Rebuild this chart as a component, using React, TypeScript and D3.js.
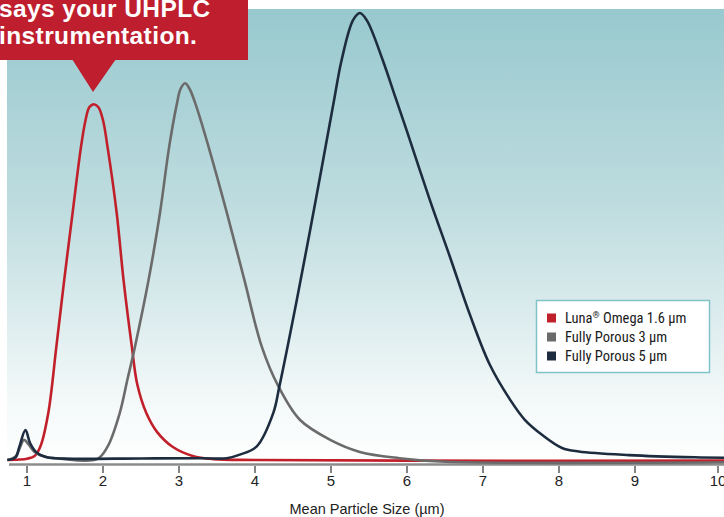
import * as d3 from "d3";

// particle size (µm) vs relative intensity (0-100, 100 = tallest peak)
const lunaX = [0.75, 0.9, 1.0, 1.1, 1.18, 1.28, 1.386, 1.49, 1.6, 1.71, 1.77, 1.82, 1.88, 1.94, 2.0, 2.06, 2.18, 2.27, 2.38, 2.45, 2.57, 2.71, 2.92, 3.18, 3.45, 4.0, 6.0, 10.1];
const lunaY = [0, 0.1, 0.3, 0.9, 3.2, 10.5, 25.3, 40.3, 55.3, 70, 76, 78.9, 79.6, 78.9, 76, 70, 55.3, 40.3, 25.3, 17, 10.5, 6.3, 2.9, 0.9, 0.2, 0, -0.15, -0.15];

const fp3X = [0.74, 0.85, 0.9, 0.96, 1.02, 1.1, 1.24, 1.43, 1.92, 2.06, 2.22, 2.32, 2.42, 2.6, 2.75, 2.87, 2.97, 3.02, 3.08, 3.14, 3.23, 3.39, 3.63, 3.86, 4.09, 4.31, 4.59, 4.99, 5.38, 5.9, 6.5, 10.1];
const fp3Y = [0, 0.8, 2.5, 4.5, 3.5, 1.8, 0.7, 0.3, 0.2, 3, 10.5, 17.9, 25.3, 40.3, 55.3, 70, 79.5, 83, 84.3, 83, 79, 70, 55.3, 40.3, 25.3, 16.4, 9, 4.5, 1.8, 0.4, -0.4, -0.5];

const fp5X = [0.74, 0.85, 0.9, 0.98, 1.04, 1.13, 1.26, 1.5, 2.5, 3.3, 3.63, 3.8, 4.02, 4.24, 4.32, 4.55, 4.8, 5.04, 5.14, 5.29, 5.38, 5.47, 5.68, 5.85, 6.0, 6.3, 6.57, 6.83, 7.09, 7.36, 7.55, 7.78, 8.04, 8.26, 8.92, 9.72, 10.1];
const fp5Y = [0, 0.6, 3, 6.7, 3.8, 1.6, 0.6, 0.3, 0.35, 0.4, 0.4, 1.2, 3, 10.5, 16.4, 35.8, 58.2, 80.5, 89.5, 98.4, 100, 98.4, 89.5, 81, 73.5, 58.2, 45.2, 32.4, 21.3, 13.4, 9, 5.6, 2.7, 1.9, 1.1, 0.6, 0.5];

const ticks = [1, 2, 3, 4, 5, 6, 7, 8, 9, 10];

const series = [
  { name: "Luna", sup: "®", rest: " Omega 1.6 µm", xs: lunaX, ys: lunaY, color: "#c1202b" },
  { name: "Fully Porous 3 µm", sup: "", rest: "", xs: fp3X, ys: fp3Y, color: "#6b6b6b" },
  { name: "Fully Porous 5 µm", sup: "", rest: "", xs: fp5X, ys: fp5Y, color: "#1d2d3f" },
];

const W = 724;
const H = 517;

export default function App() {
  // the last interval on the original axis is a bit wider than the others
  const x = d3.scaleLinear().domain([1, 9, 10]).range([27, 635, 718]);
  const y = d3.scaleLinear().domain([0, 100]).range([460, 13]);

  const line = d3
    .line<[number, number]>()
    .x((d) => x(d[0]))
    .y((d) => y(d[1]))
    .curve(d3.curveCatmullRom.alpha(0.5));

  const sans = "'Liberation Sans', Arial, Helvetica, sans-serif";
  const narrow = "'Liberation Sans Narrow', 'Arial Narrow', 'Roboto Condensed', sans-serif";

  return (
    <svg
      width={W}
      height={H}
      style={{ position: "absolute", left: 0, top: 0, display: "block" }}
    >
      <defs>
        <linearGradient id="bg" x1="0" y1="0" x2="0" y2="1">
          <stop offset="0" stopColor="#98c9ce" />
          <stop offset="0.45" stopColor="#c0dde0" />
          <stop offset="0.85" stopColor="#f2f8f8" />
          <stop offset="1" stopColor="#ffffff" />
        </linearGradient>
        <clipPath id="plot">
          <rect x={7} y={0} width={W - 7} height={470} />
        </clipPath>
      </defs>

      <rect x={0} y={0} width={W} height={H} fill="#fff" />
      <rect x={7} y={9} width={W - 7} height={455} fill="url(#bg)" />

      {/* axis */}
      <line x1={9} x2={W} y1={464.5} y2={464.5} stroke="#8c8c8c" strokeWidth={2.5} />
      {ticks.map((t) => (
        <g key={t}>
          <line x1={x(t)} x2={x(t)} y1={466} y2={473} stroke="#333" strokeWidth={1.2} />
          <text
            x={x(t)}
            y={486}
            textAnchor="middle"
            fontFamily={sans}
            fontSize={15}
            fill="#222"
          >
            {t}
          </text>
        </g>
      ))}
      <text x={367} y={514} textAnchor="middle" fontFamily={sans} fontSize={14.5} fill="#222">
        Mean Particle Size (µm)
      </text>

      {/* curves */}
      <g clipPath="url(#plot)">
        {series.map((s) => (
          <path
            key={s.name}
            d={line(s.xs.map((v, i) => [v, s.ys[i]] as [number, number])) || ""}
            fill="none"
            stroke={s.color}
            strokeWidth={2.6}
            strokeLinejoin="round"
          />
        ))}
      </g>

      {/* legend */}
      <rect x={536.5} y={300.5} width={173} height={72} fill="#fff" stroke="#80c3c8" strokeWidth={1.5} />
      {series.map((s, i) => (
        <g key={s.name} transform={`translate(547, ${318 + i * 19})`}>
          <rect x={0} y={-4.5} width={9} height={9} fill={s.color} />
          <text x={18} y={5} fontFamily={narrow} fontSize={14.5} fill="#1a1a1a">
            {s.name}
            {s.sup && (
              <tspan fontSize={9} dy={-5}>
                {s.sup}
              </tspan>
            )}
            {s.rest && <tspan dy={s.sup ? 5 : 0}>{s.rest}</tspan>}
          </text>
        </g>
      ))}

      {/* callout */}
      <rect x={0} y={0} width={248} height={60} fill="#be1e2d" />
      <path d="M72,59 L116,59 L93,92 Z" fill="#be1e2d" />
      <text x={-1} y={17} fontFamily={sans} fontWeight="bold" fontSize={24.5} letterSpacing={0.4} fill="#fff">
        says your UHPLC
      </text>
      <text x={-1} y={44} fontFamily={sans} fontWeight="bold" fontSize={24.5} letterSpacing={0.4} fill="#fff">
        instrumentation.
      </text>
    </svg>
  );
}
